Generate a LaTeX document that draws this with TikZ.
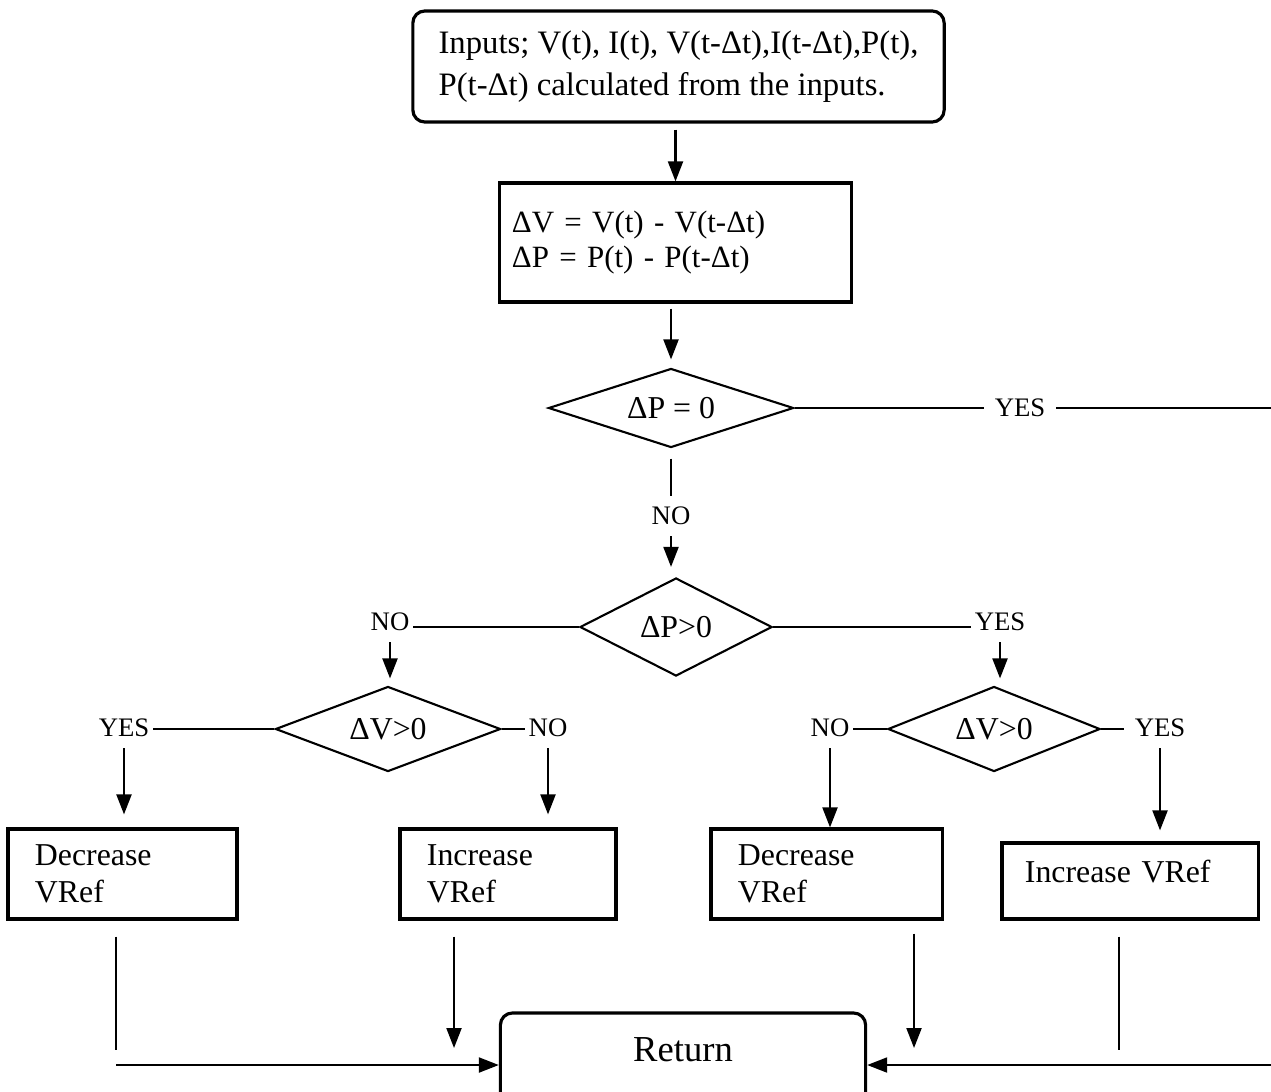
\documentclass[tikz,border=0pt]{standalone}
\usepackage{fontspec}
\setmainfont{Liberation Serif}
\frenchspacing
\usetikzlibrary{shapes.geometric,arrows.meta}

\tikzset{
	procbox/.style = {draw, line width=0.9pt, inner sep=0pt, align=left},
	decision/.style = {draw, diamond, aspect=3, inner sep=0pt, font=\fontsize{9.05}{10}\selectfont},
	lbl/.style = {inner ysep=1mm, inner xsep=0.3mm, font=\fontsize{7.6}{8}\selectfont},
	>={Triangle[length=2mm,width=1.5mm]}
}

\begin{document}
\begin{tikzpicture}[x=0.01cm, y=-0.01cm, line width=0.6pt]
		\useasboundingbox (0,0) rectangle (1271,1091);
		\node[procbox, rounded corners=0.12cm, minimum width=5.31cm, minimum height=1.11cm, font=\fontsize{9.3}{11.9}\selectfont] (inp) at (678.5,66.5) {Inputs; V(t), I(t), V(t-Δt),I(t-Δt),P(t),\\P(t-Δt) calculated from the inputs.};
		\node[procbox, minimum width=3.51cm, minimum height=1.19cm, text width=3.27cm, font=\fontsize{8.8}{10}\selectfont] (calc) at (675.5,242.5) {ΔV = V(t) - V(t-Δt)\\ΔP = P(t) - P(t-Δt)};
		\node[decision, minimum width=2.45cm, minimum height=0.79cm] (d1) at (671,408) {ΔP = 0};
		\node[decision, minimum width=1.92cm, minimum height=0.98cm] (d2) at (676,627) {ΔP>0};
		\node[decision, minimum width=2.25cm, minimum height=0.85cm] (d3) at (388,729) {ΔV>0};
		\node[decision, minimum width=2.12cm, minimum height=0.85cm] (d4) at (994,729) {ΔV>0};
		\node[procbox, minimum width=2.29cm, minimum height=0.9cm, text width=1.75cm, font=\fontsize{9.05}{10.5}\selectfont] (b1) at (122.5,874) {Decrease\\VRef};
		\node[procbox, minimum width=2.16cm, minimum height=0.9cm, text width=1.62cm, font=\fontsize{9.05}{10.5}\selectfont] (b2) at (508,874) {Increase\\VRef};
		\node[procbox, minimum width=2.31cm, minimum height=0.9cm, text width=1.77cm, font=\fontsize{9.05}{10.5}\selectfont] (b3) at (826.5,874) {Decrease\\VRef};
		\node[procbox, minimum width=2.56cm, minimum height=0.76cm, text width=2.1cm, text depth=0.2cm, font=\fontsize{9.05}{10.5}\selectfont] (b4) at (1130,881) {Increase VRef};
		\node[procbox, align=center, rounded corners=0.12cm, minimum width=3.65cm, minimum height=1.04cm, text height=0.25cm, text depth=0.33cm, font=\fontsize{10.4}{12}\selectfont] (ret) at (683,1065) {Return};

		\node[lbl, inner xsep=1mm] (yes1) at (1020,408) {YES};
		\node[lbl] (no1) at (671,516) {NO};
		\node[lbl] (no2) at (390,622) {NO};
		\node[lbl] (yes2) at (1000,622) {YES};
		\node[lbl] (yes3) at (124,728) {YES};
		\node[lbl] (no3) at (548,728) {NO};
		\node[lbl] (no4) at (830,728) {NO};
		\node[lbl, inner xsep=1mm] (yes4) at (1160,728) {YES};

		\coordinate (yesend) at (1271,408);
		\coordinate (e1) at (116,1050);
		\coordinate (a2) at (454,1048);
		\coordinate (a3) at (914,1048);
		\coordinate (e4) at (1119,1050);
		\coordinate (lret) at (116,1065);
		\coordinate (rret) at (1271,1065);

		\draw[->, shorten <=0.06cm] (calc.north |- inp.south) -- (calc.north);
		\draw[->, shorten <=0.05cm, shorten >=0.08cm] (d1.north |- calc.south) -- (d1.north);
		\draw (d1.east) -- (yes1.west);
		\draw (yes1.east) -- (yesend);
		\draw[shorten <=0.1cm] (d1.south) -- (no1.north);
		\draw[->, shorten >=0.1cm] (no1.south) -- (no1.south |- d2.north);
		\draw (d2.west) -- (d2.west -| no2.east);
		\draw (d2.east) -- (d2.east -| yes2.west);
		\draw[->, shorten >=0.07cm] (no2.south) -- (no2.south |- d3.north);
		\draw[->, shorten >=0.07cm] (yes2.south) -- (yes2.south |- d4.north);
		\draw (d3.west) -- (d3.west -| yes3.east);
		\draw (d3.east) -- (d3.east -| no3.west);
		\draw (d4.west) -- (d4.west -| no4.east);
		\draw (d4.east) -- (d4.east -| yes4.west);
		\draw[->, shorten >=0.13cm] (yes3.south) -- (yes3.south |- b1.north);
		\draw[->, shorten >=0.13cm] (no3.south) -- (no3.south |- b2.north);
		\draw[->] (no4.south) -- (no4.south |- b3.north);
		\draw[->, shorten >=0.11cm] (yes4.south) -- (yes4.south |- b4.north);
		\draw[shorten <=0.16cm] (b1.south -| e1) -- (e1);
		\draw[->, shorten <=0.16cm] (b2.south -| a2) -- (a2);
		\draw[->, shorten <=0.13cm] (b3.south -| a3) -- (a3);
		\draw[shorten <=0.16cm] (b4.south -| e4) -- (e4);
		\draw[->] (lret) -- (ret.west);
		\draw[->] (rret) -- (ret.east);
	\end{tikzpicture}
\end{document}
